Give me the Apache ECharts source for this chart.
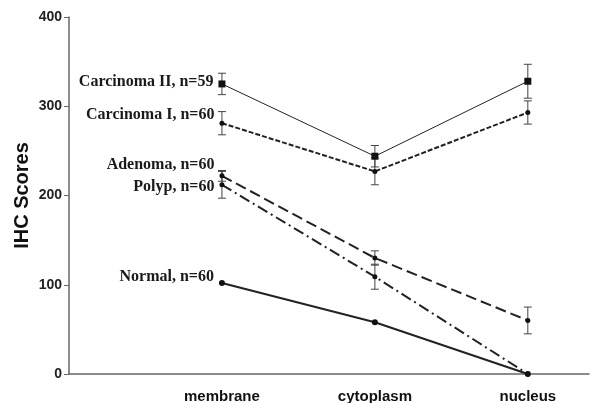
<!DOCTYPE html>
<html>
<head>
    <meta charset="utf-8">
    <title>IHC Scores</title>
    <script src="https://cdn.jsdelivr.net/npm/echarts@6/dist/echarts.min.js"></script>
    <style>
        body { margin: 0; background: #fff; }
        #main { width: 594px; height: 403px; }
    </style>
</head>
<body>
    <div id="main"></div>
    <script type="text/javascript">
        // locations on the x axis (1, 2, 3)
        var categories = ['membrane', 'cytoplasm', 'nucleus'];
        var yTicks = [0, 100, 200, 300, 400];

        // mean scores and error (+/-) per group
        var carcinoma2 = [325, 244, 328];
        var carcinoma2Err = [12, 12, 19];
        var carcinoma1 = [281, 227, 293];
        var carcinoma1Err = [13, 15, 13];
        var adenoma = [222, 130, 60];
        var adenomaErr = [6, 8, 15];
        var polyp = [212, 109, 0];
        var polypErr = [15, 14, 0];
        var normal = [102, 58, 0];

        var myChart = echarts.init(document.getElementById('main'));

        function pts(vals) {
            var out = [];
            for (var i = 0; i < vals.length; i++) out.push([i + 1, vals[i]]);
            return out;
        }
        function errPts(vals, err) {
            var out = [];
            for (var i = 0; i < vals.length; i++) {
                if (err[i] > 0) out.push([i + 1, vals[i] - err[i], vals[i] + err[i]]);
            }
            return out;
        }

        // I-shaped error bar
        function renderErr(params, api) {
            var lo = api.coord([api.value(0), api.value(1)]);
            var hi = api.coord([api.value(0), api.value(2)]);
            var w = 4;
            var st = { stroke: '#444', lineWidth: 1 };
            return {
                type: 'group',
                children: [
                    { type: 'line', shape: { x1: lo[0], y1: lo[1], x2: hi[0], y2: hi[1] }, style: st },
                    { type: 'line', shape: { x1: lo[0] - w, y1: lo[1], x2: lo[0] + w, y2: lo[1] }, style: st },
                    { type: 'line', shape: { x1: hi[0] - w, y1: hi[1], x2: hi[0] + w, y2: hi[1] }, style: st }
                ]
            };
        }

        var labelFont = {
            fontFamily: '"Liberation Serif", "Times New Roman", serif',
            fontWeight: 'bold',
            fontSize: 16,
            color: '#1a1a1a'
        };

        function lineSeries(name, vals, lineType, width, symbol, size, offset) {
            var data = pts(vals);
            data[0] = {
                value: data[0],
                label: Object.assign({
                    show: true,
                    position: 'left',
                    distance: 5,
                    offset: offset,
                    formatter: name
                }, labelFont)
            };
            return {
                name: name,
                type: 'line',
                data: data,
                symbol: symbol,
                symbolSize: size,
                itemStyle: { color: '#111' },
                lineStyle: { color: '#222', width: width, type: lineType },
                z: 3
            };
        }

        function errSeries(vals, err) {
            return {
                type: 'custom',
                renderItem: renderErr,
                data: errPts(vals, err),
                z: 2
            };
        }

        var option = {
            animation: false,
            grid: { left: 69, right: 5, top: 17, bottom: 29, outerBoundsMode: 'none', containLabel: false },
            xAxis: {
                type: 'value',
                min: 0,
                max: 3.4,
                interval: 1,
                splitLine: { show: false },
                axisLine: { lineStyle: { color: '#666', width: 1.5 } },
                axisTick: { show: false },
                axisLabel: {
                    margin: 15,
                    showMaxLabel: false,
                    fontFamily: '"Liberation Sans", Arial, sans-serif',
                    fontWeight: 'bold',
                    fontSize: 15,
                    color: '#111',
                    formatter: function (v) { return categories[v - 1] || ''; }
                }
            },
            yAxis: {
                type: 'value',
                min: yTicks[0],
                max: yTicks[yTicks.length - 1],
                interval: 100,
                name: 'IHC Scores',
                nameLocation: 'middle',
                nameGap: 37,
                nameMoveOverlap: false,
                nameTextStyle: {
                    fontFamily: '"Liberation Sans", Arial, sans-serif',
                    fontWeight: 'bold',
                    fontSize: 20,
                    color: '#111'
                },
                splitLine: { show: false },
                axisLine: { show: true, lineStyle: { color: '#666', width: 1.5 } },
                axisTick: { show: true, length: 5, lineStyle: { color: '#666' } },
                axisLabel: {
                    margin: 7,
                    fontFamily: '"Liberation Sans", Arial, sans-serif',
                    fontWeight: 'bold',
                    fontSize: 14,
                    color: '#222'
                }
            },
            series: [
                lineSeries('Carcinoma II, n=59', carcinoma2, 'solid', 1, 'rect', 7, [0, -2]),
                errSeries(carcinoma2, carcinoma2Err),
                lineSeries('Carcinoma I, n=60', carcinoma1, [5, 2], 2, 'circle', 5, [0, -8]),
                errSeries(carcinoma1, carcinoma1Err),
                lineSeries('Adenoma, n=60', adenoma, [11, 5], 2, 'circle', 5, [0, -11]),
                errSeries(adenoma, adenomaErr),
                lineSeries('Polyp, n=60', polyp, [11, 4, 2, 4], 2, 'circle', 5, [0, 2]),
                errSeries(polyp, polypErr),
                lineSeries('Normal, n=60', normal, 'solid', 2, 'circle', 6, [0, -6])
            ]
        };

        myChart.setOption(option);
    </script>
</body>
</html>
